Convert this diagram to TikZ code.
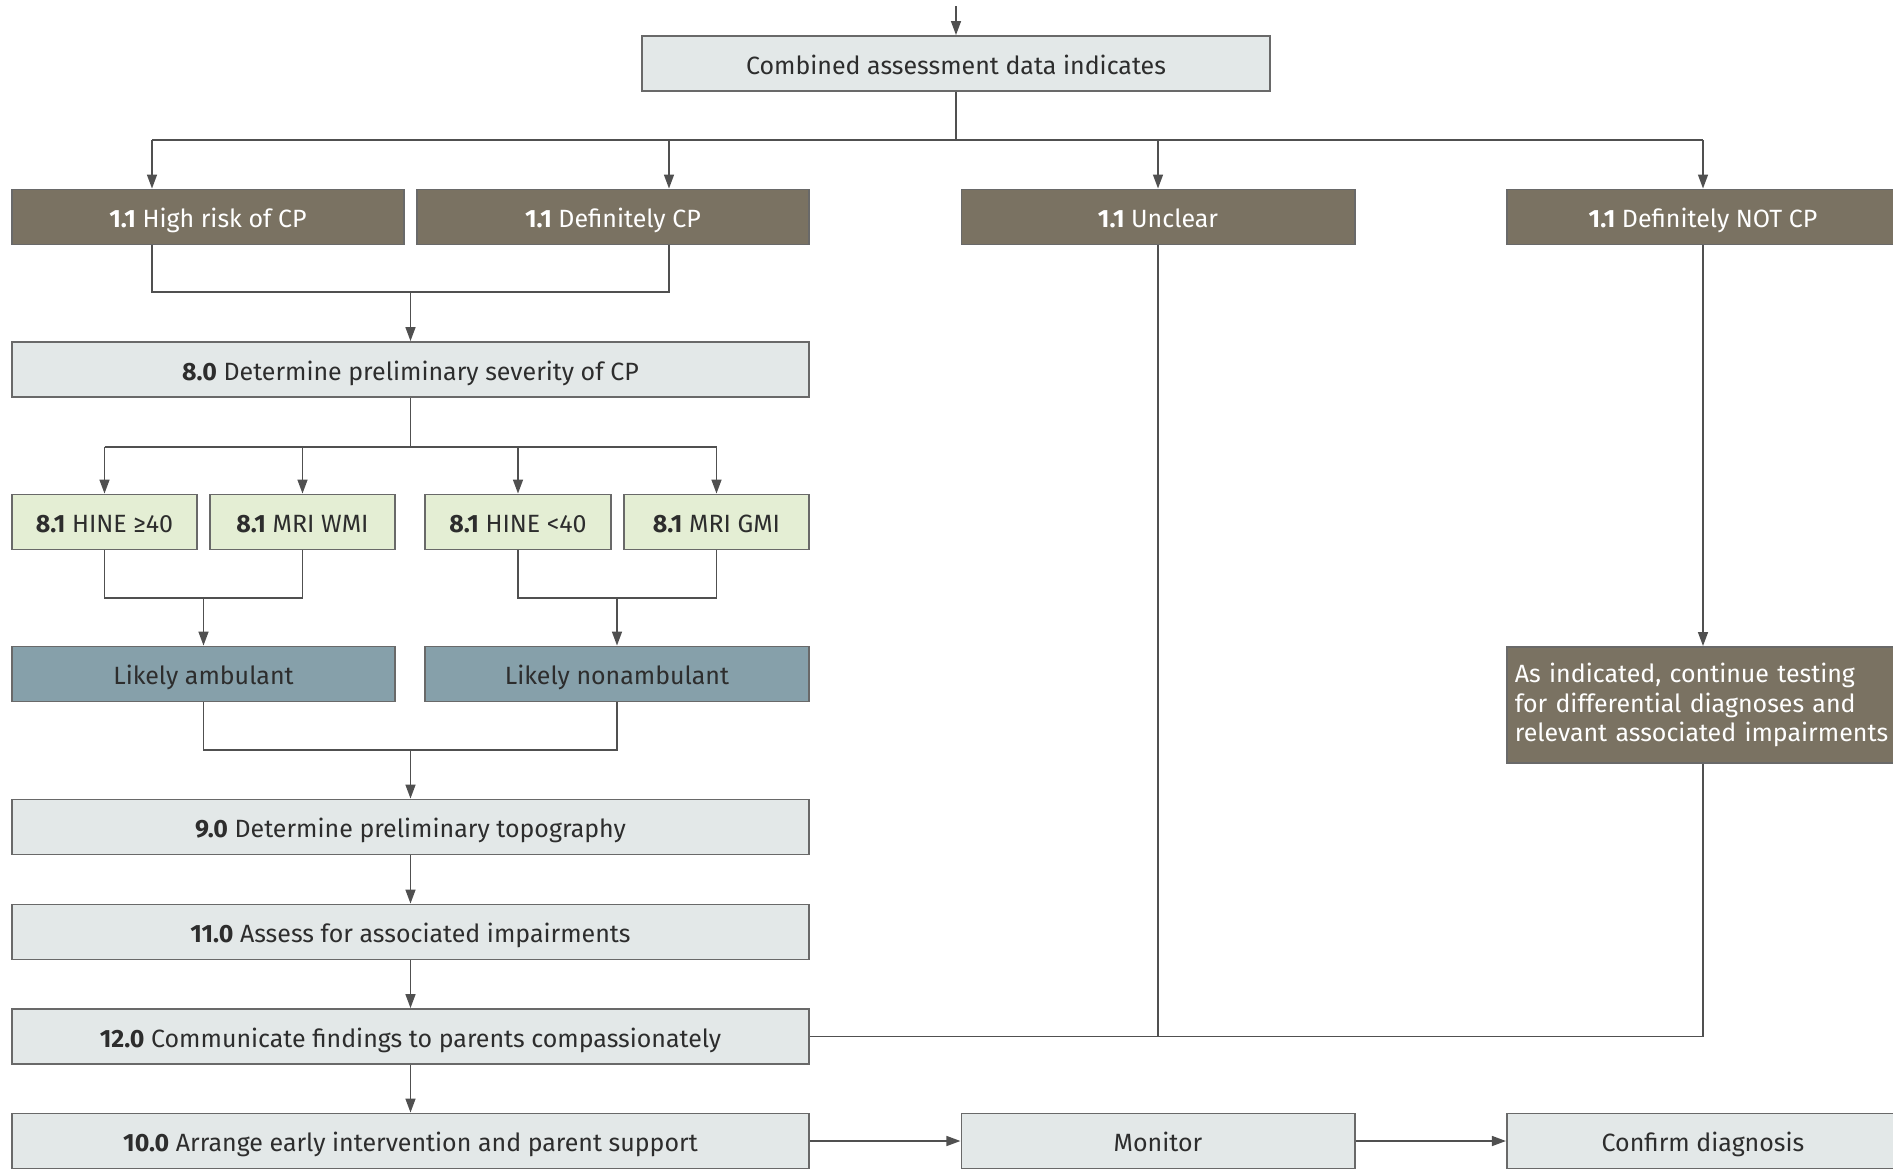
\documentclass[tikz,border=0pt]{standalone}
\usepackage{fontspec}
\setmainfont{Fira Sans}
\usetikzlibrary{arrows.meta,calc}
\definecolor{darkbox}{RGB}{122,114,98}
\definecolor{greybox}{RGB}{227,232,232}
\definecolor{greenbox}{RGB}{228,238,212}
\definecolor{bluebox}{RGB}{134,160,170}
\definecolor{boxline}{RGB}{105,105,105}
\definecolor{lncol}{RGB}{80,80,80}
\definecolor{txt}{RGB}{45,45,45}
\begin{document}
\begin{tikzpicture}[x=0.01cm,y=-0.01cm,
  basebox/.style={draw=boxline, line width=0.5pt, inner sep=2pt, anchor=center,
    font=\fontsize{7.1}{8.5}\selectfont, minimum height=0.55cm,
    text height=1.55ex, text depth=0.4ex},
  greyb/.style={basebox, fill=greybox, text=txt},
  greenb/.style={basebox, fill=greenbox, text=txt},
  blueb/.style={basebox, fill=bluebox, text=txt},
  darkb/.style={basebox, fill=darkbox, text=white},
  ln/.style={draw=lncol, line width=0.55pt},
  arr/.style={ln, -{Triangle[length=4pt,width=2.8pt]}}]
\useasboundingbox (0,0) rectangle (1893,1169);
\clip (0,0) rectangle (1893,1169);
\fill[white] (0,0) rectangle (1893,1169);

% nodes
\node[greyb, minimum width=6.28cm] (comb) at (956,63.5) {Combined assessment data indicates};
\node[darkb, minimum width=3.92cm] (hr) at (208,217) {\textbf{1.1} High risk of CP};
\node[darkb, minimum width=3.92cm] (dcp) at (613,217) {\textbf{1.1} Definitely CP};
\node[darkb, minimum width=3.93cm] (unc) at (1158,217) {\textbf{1.1} Unclear};
\node[darkb, minimum width=3.92cm] (ncp) at (1703,217) {\textbf{1.1} Definitely NOT CP};
\node[greyb, minimum width=7.97cm] (sev) at (410.5,369.5) {\textbf{8.0} Determine preliminary severity of CP};
\node[greenb, minimum width=1.85cm] (h40) at (104.5,522) {\textbf{8.1} HINE ≥40};
\node[greenb, minimum width=1.85cm] (wmi) at (302.5,522) {\textbf{8.1} MRI WMI};
\node[greenb, minimum width=1.86cm] (hl40) at (518,522) {\textbf{8.1} HINE <40};
\node[greenb, minimum width=1.85cm] (gmi) at (716.5,522) {\textbf{8.1} MRI GMI};
\node[blueb, minimum width=3.83cm] (amb) at (203.5,674) {Likely ambulant};
\node[blueb, minimum width=3.84cm] (nonamb) at (617,674) {Likely nonambulant};
\node[darkb, minimum width=3.92cm, minimum height=1.16cm, text height=, text depth=, text width=3.76cm, align=left, inner sep=1pt] (asind) at (1703,705)
  {As indicated, continue testing\\for differential diagnoses and\\relevant associated impairments};
\node[greyb, minimum width=7.97cm] (topo) at (410.5,827) {\textbf{9.0} Determine preliminary topography};
\node[greyb, minimum width=7.97cm] (assoc) at (410.5,932) {\textbf{11.0} Assess for associated impairments};
\node[greyb, minimum width=7.97cm] (comm) at (410.5,1036.5) {\textbf{12.0} Communicate findings to parents compassionately};
\node[greyb, minimum width=7.97cm] (early) at (410.5,1141) {\textbf{10.0} Arrange early intervention and parent support};
\node[greyb, minimum width=3.93cm] (mon) at (1158,1141) {Monitor};
\node[greyb, minimum width=3.92cm] (conf) at (1703,1141) {Confirm diagnosis};

% junction coordinates
\coordinate (top) at (956,6);
\coordinate (bC) at (956,140);
\coordinate (bL) at (152,140);
\coordinate (bD) at (669,140);
\coordinate (bR) at (1703,140);
\coordinate (j1L) at (152,292);
\coordinate (j1R) at (669,292);
\coordinate (j2) at (410.5,447);
\coordinate (j3) at (203.5,598);
\coordinate (j4) at (617,598);
\coordinate (j5) at (410.5,750);

% connectors
\draw[arr] (top) -- (comb);
\draw[ln] (comb) -- (bC);
\draw[ln] (bL) -- (bR);
\draw[arr] (bL) -- (hr.north -| bL);
\draw[arr] (bD) -- (dcp.north -| bD);
\draw[arr] (unc |- bC) -- (unc);
\draw[arr] (bR) -- (ncp);

\draw[ln] (hr.south -| j1L) -- (j1L) -- (j1R) -- (dcp.south -| j1R);
\draw[arr] (sev |- j1L) -- (sev);

\draw[ln] (sev) -- (j2);
\draw[ln] (h40 |- j2) -- (gmi |- j2);
\draw[arr] (h40 |- j2) -- (h40);
\draw[arr] (wmi |- j2) -- (wmi);
\draw[arr] (hl40 |- j2) -- (hl40);
\draw[arr] (gmi |- j2) -- (gmi);

\draw[ln] (h40) -- (h40 |- j3) -- (wmi |- j3) -- (wmi);
\draw[arr] (j3) -- (amb);
\draw[ln] (hl40) -- (hl40 |- j4) -- (gmi |- j4) -- (gmi);
\draw[arr] (j4) -- (nonamb);

\draw[ln] (amb) -- (amb |- j5) -- (nonamb |- j5) -- (nonamb);
\draw[arr] (j5) -- (topo);
\draw[arr] (topo) -- (assoc);
\draw[arr] (assoc) -- (comm);
\draw[arr] (comm) -- (early);
\draw[arr] (early) -- (mon);
\draw[arr] (mon) -- (conf);

\draw[arr] (ncp) -- (asind);
\draw[ln] (asind) -- (asind |- comm) -- (comm);
\draw[ln] (unc) -- (unc |- comm);
\end{tikzpicture}
\end{document}
